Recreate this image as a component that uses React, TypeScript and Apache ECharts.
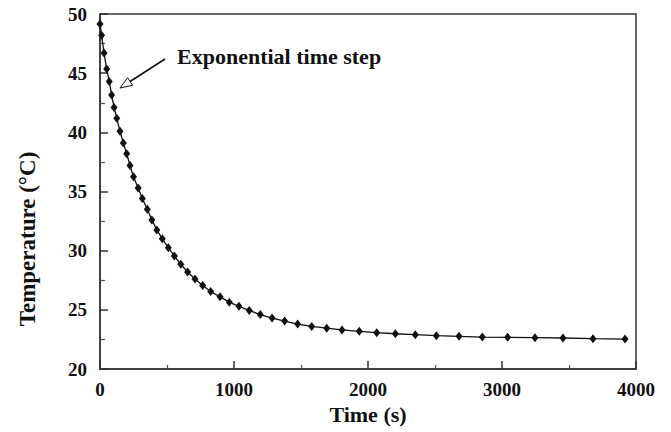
import React, { useEffect, useRef } from "react";
import * as echarts from "echarts";

// Cooling curve sampled with a growing (exponential) time step
const timeSeconds = [
  0, 12, 30, 50, 69, 87, 105, 125, 149, 174, 199, 224, 250, 285, 316, 353, 387,
  424, 465, 510, 555, 603, 654, 709, 766, 826, 896, 965, 1037, 1114, 1196, 1284,
  1378, 1475, 1580, 1692, 1806, 1935, 2065, 2204, 2353, 2510, 2679, 2853, 3042,
  3246, 3455, 3679, 3918,
];
const temperatureC = [
  49.15, 48.2, 46.7, 45.35, 44.3, 43.15, 42.1, 41.2, 40.1, 39.1, 38.2, 37.2,
  36.25, 35.3, 34.4, 33.5, 32.6, 31.75, 31.0, 30.25, 29.55, 28.85, 28.2, 27.6,
  27.05, 26.55, 26.1, 25.65, 25.3, 24.95, 24.6, 24.3, 24.05, 23.8, 23.6, 23.45,
  23.3, 23.18, 23.07, 22.98, 22.9, 22.82, 22.76, 22.7, 22.68, 22.65, 22.62,
  22.56, 22.53,
];

const xTitle = "Time (s)";
const yTitle = "Temperature (°C)";
const noteText = "Exponential time step";

const FONT = "'Liberation Serif', 'Times New Roman', Times, serif";
const INK = "#111";

// Open-headed arrow pointing from the note toward the curve
function arrowShapes(fromX: number, fromY: number, tipX: number, tipY: number) {
  const dx = tipX - fromX;
  const dy = tipY - fromY;
  const len = Math.hypot(dx, dy);
  const ux = dx / len;
  const uy = dy / len;
  const headLen = 12;
  const headHalf = 4.5;
  const bx = tipX - ux * headLen;
  const by = tipY - uy * headLen;
  const px = -uy * headHalf;
  const py = ux * headHalf;
  return [
    {
      type: "line",
      shape: { x1: fromX, y1: fromY, x2: bx, y2: by },
      style: { stroke: INK, lineWidth: 1.6 },
      silent: true,
    },
    {
      type: "polygon",
      shape: {
        points: [
          [tipX, tipY],
          [bx + px, by + py],
          [bx - px, by - py],
        ],
      },
      style: { fill: "#fff", stroke: INK, lineWidth: 1 },
      silent: true,
    },
  ];
}

export default function App() {
  const ref = useRef<HTMLDivElement>(null);

  useEffect(() => {
    if (!ref.current) return;
    const chart = echarts.init(ref.current, undefined, { renderer: "svg" });

    const points = timeSeconds.map((t, i) => [t, temperatureC[i]]);
    const plain = (v: number) => String(v);

    chart.setOption({
      animation: false,
      backgroundColor: "#fff",
      grid: {
        left: 100,
        right: 35,
        top: 14,
        bottom: 63,
        show: true,
        borderColor: "#333",
        borderWidth: 1.5,
        backgroundColor: "transparent",
      },
      xAxis: {
        type: "value",
        min: 0,
        max: 4000,
        interval: 1000,
        name: xTitle,
        nameLocation: "middle",
        nameGap: 31,
        nameTextStyle: {
          fontFamily: FONT,
          fontWeight: "bold",
          fontSize: 22,
          color: INK,
        },
        axisLine: { show: true, lineStyle: { color: "#333", width: 1.5 } },
        axisTick: { show: true, inside: true, length: 8, lineStyle: { color: "#333", width: 1.5 } },
        minorTick: { show: true, splitNumber: 2, length: 4, lineStyle: { color: "#555", width: 1.2 } },
        splitLine: { show: false },
        axisLabel: {
          margin: 11,
          formatter: plain,
          fontFamily: FONT,
          fontWeight: "bold",
          fontSize: 19,
          color: INK,
        },
      },
      yAxis: {
        type: "value",
        min: 20,
        max: 50,
        interval: 5,
        axisLine: { show: true, lineStyle: { color: "#333", width: 1.5 } },
        axisTick: { show: true, inside: true, length: 8, lineStyle: { color: "#333", width: 1.5 } },
        minorTick: { show: true, splitNumber: 2, length: 5, lineStyle: { color: "#555", width: 1.2 } },
        splitLine: { show: false },
        axisLabel: {
          margin: 13,
          formatter: plain,
          fontFamily: FONT,
          fontWeight: "bold",
          fontSize: 19,
          color: INK,
        },
      },
      series: [
        {
          type: "line",
          data: points,
          symbol: "diamond",
          symbolSize: [7, 9],
          showSymbol: true,
          lineStyle: { color: INK, width: 1.3 },
          itemStyle: { color: INK },
          clip: false,
        },
      ],
      graphic: [
        {
          type: "text",
          x: 27,
          y: 239,
          rotation: Math.PI / 2,
          style: {
            text: yTitle,
            fontFamily: FONT,
            fontWeight: "bold",
            fontSize: 23,
            fill: INK,
            align: "center",
            verticalAlign: "middle",
          },
          silent: true,
        },
        {
          type: "text",
          x: 177,
          y: 56,
          style: {
            text: noteText,
            fontFamily: FONT,
            fontWeight: "bold",
            fontSize: 22,
            fill: INK,
            align: "left",
            verticalAlign: "middle",
          },
          silent: true,
        },
        ...arrowShapes(165, 59, 120, 88),
      ],
    });

    return () => chart.dispose();
  }, []);

  return (
    <div
      ref={ref}
      style={{ position: "absolute", left: 0, top: 0, width: 671, height: 432 }}
    />
  );
}
